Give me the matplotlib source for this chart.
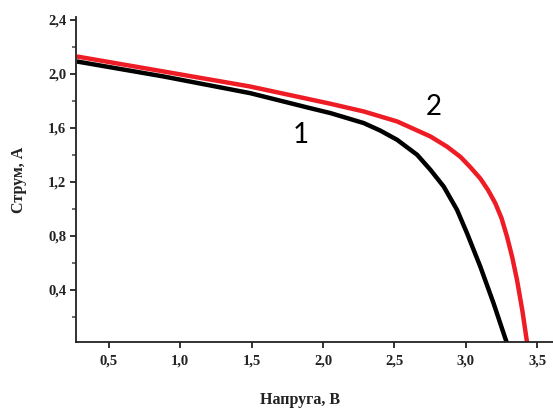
import matplotlib
matplotlib.use("Agg")
import matplotlib.pyplot as plt
from matplotlib.ticker import MultipleLocator, FuncFormatter

# curve 1 (black)
v1 = [0.276, 0.883, 1.488, 1.908, 2.052, 2.285, 2.40, 2.519, 2.659, 2.752, 2.845, 2.938,
      3.008, 3.101, 3.194, 3.276, 3.29]
i1 = [2.091, 1.980, 1.857, 1.746, 1.709, 1.635, 1.58, 1.511, 1.400, 1.289, 1.165, 0.993,
      0.82, 0.573, 0.301, 0.042, 0.0]

# curve 2 (red)
v2 = [0.276, 0.883, 1.488, 2.052, 2.285, 2.519, 2.752, 2.869, 2.962, 3.03, 3.101,
      3.155, 3.206, 3.25, 3.288, 3.325, 3.358, 3.395, 3.43]
i2 = [2.128, 2.017, 1.906, 1.778, 1.721, 1.647, 1.536, 1.46, 1.385, 1.31, 1.225,
      1.14, 1.042, 0.93, 0.795, 0.64, 0.474, 0.25, 0.0]

fig = plt.figure(figsize=(5.53, 4.13), dpi=100)
ax = fig.add_axes([0.1374, 0.1719, 0.8626, 0.7869])

ax.plot(v1, i1, color='black', lw=3.2, solid_joinstyle='round', solid_capstyle='butt')
ax.plot(v2, i2, color='#ee1c24', lw=3.2, solid_joinstyle='round', solid_capstyle='butt')

ax.set_xlim(0.27, 3.61)
ax.set_ylim(0.015, 2.42)

for s in ['top', 'right']:
    ax.spines[s].set_visible(False)
for s in ['left', 'bottom']:
    ax.spines[s].set_linewidth(1.3)
    ax.spines[s].set_color('#222222')

ax.xaxis.set_major_locator(MultipleLocator(0.5))
ax.yaxis.set_major_locator(MultipleLocator(0.4))
ax.yaxis.set_minor_locator(MultipleLocator(0.2))
comma = FuncFormatter(lambda v, p: f'{v:.1f}'.replace('.', ','))
ax.xaxis.set_major_formatter(comma)
ax.yaxis.set_major_formatter(comma)

ax.tick_params(axis='both', which='major', direction='out', length=4, width=1.3,
               color='#222222', labelsize=10.5, pad=3)
ax.tick_params(axis='y', which='minor', direction='out', length=3, width=1.1, color='#444444')
ax.tick_params(axis='x', pad=5)
for lab in ax.get_xticklabels() + ax.get_yticklabels():
    lab.set_fontfamily('Liberation Serif')
    lab.set_fontweight('bold')
    lab.set_color('#222222')

fig.text(0.035, 0.565, 'Струм, А', rotation=90, ha='center', va='center',
         fontfamily='Liberation Serif', fontweight='bold', fontsize=11.5, color='#222222')
fig.text(0.543, 0.032, 'Напруга, В', ha='center', va='center',
         fontfamily='Liberation Serif', fontweight='bold', fontsize=11.5, color='#222222')

fig.text(301 / 553, 1 - 135 / 413, '1', ha='center', va='center',
         fontfamily='Lato', fontsize=20, color='black')
fig.text(434 / 553, 1 - 107 / 413, '2', ha='center', va='center',
         fontfamily='Lato', fontsize=20, color='black')

fig.savefig('out.png', dpi=100)
